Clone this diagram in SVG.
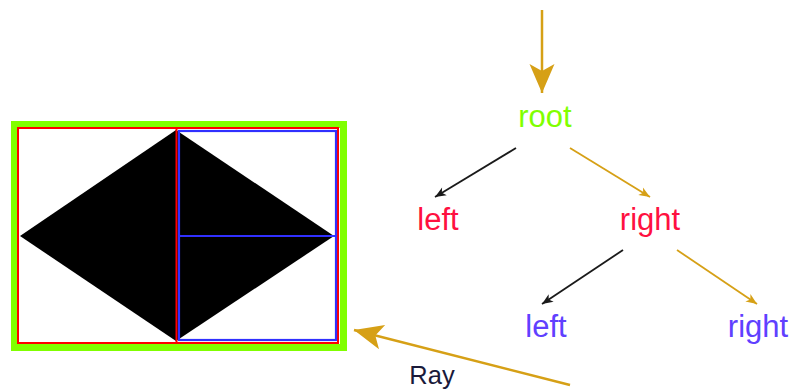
<svg xmlns="http://www.w3.org/2000/svg" width="793" height="392" viewBox="0 0 793 392">
<style>
.lbl{font-family:"Liberation Sans",Arial,sans-serif;font-size:31px;text-anchor:middle}
.gold{stroke:#D6A016;fill:none}
.blk{stroke:#1a1a1a;fill:none}
</style>
<defs>
<marker id="bigGold" markerUnits="userSpaceOnUse" viewBox="-31 -15 33 30" markerWidth="33" markerHeight="30" refX="0" refY="0" orient="auto">
<path d="M0,0 L-29,-12.5 L-22,0 L-29,12.5 Z" fill="#D6A016"/>
</marker>
<marker id="smGold" markerUnits="userSpaceOnUse" viewBox="-13 -6 15 12" markerWidth="15" markerHeight="12" refX="0" refY="0" orient="auto">
<path d="M0,0 L-11,-4.5 L-8,0 L-11,4.5 Z" fill="#D6A016"/>
</marker>
<marker id="smBlk" markerUnits="userSpaceOnUse" viewBox="-13 -6 15 12" markerWidth="15" markerHeight="12" refX="0" refY="0" orient="auto">
<path d="M0,0 L-11,-4.5 L-8,0 L-11,4.5 Z" fill="#1a1a1a"/>
</marker>
</defs>
<rect width="793" height="392" fill="#ffffff"/>
<g id="scene">
<rect x="14.5" y="124.5" width="329" height="223" fill="#ffffff" stroke="#80FF00" stroke-width="7"/>
<polygon points="20,236 176,130 334,236 176,341" fill="#000000"/>
<rect x="18" y="128" width="320" height="215" fill="none" stroke="#FF0000" stroke-width="2"/>
<line x1="176.5" y1="128" x2="176.5" y2="343" stroke="#FF0000" stroke-width="2"/>
<rect x="179" y="131" width="157" height="209" fill="none" stroke="#3030FF" stroke-width="2.2"/>
<line x1="179" y1="236" x2="336" y2="236" stroke="#3030FF" stroke-width="2.2"/>
</g>
<g id="connectors">
<line class="gold" x1="542" y1="10" x2="542" y2="93" stroke-width="2.5" marker-end="url(#bigGold)"/>
<line class="blk" x1="516" y1="148" x2="435" y2="197" stroke-width="1.8" marker-end="url(#smBlk)"/>
<line class="gold" x1="570" y1="148" x2="650" y2="197" stroke-width="1.8" marker-end="url(#smGold)"/>
<line class="blk" x1="623" y1="250" x2="542" y2="304" stroke-width="1.8" marker-end="url(#smBlk)"/>
<line class="gold" x1="677" y1="250" x2="757" y2="304" stroke-width="1.8" marker-end="url(#smGold)"/>
<line class="gold" x1="570" y1="385" x2="354" y2="330" stroke-width="2.5" marker-end="url(#bigGold)"/>
</g>
<g id="node-root"><text class="lbl" x="545" y="127" fill="#80FF00">root</text></g>
<g id="node-left1"><text class="lbl" x="438" y="230" fill="#FF1040">left</text></g>
<g id="node-right1"><text class="lbl" x="650" y="230" fill="#FF1040">right</text></g>
<g id="node-left2"><text class="lbl" x="546" y="337" fill="#6040FF">left</text></g>
<g id="node-right2"><text class="lbl" x="758" y="337" fill="#6040FF">right</text></g>
<g id="label-ray"><text x="432" y="384" font-family="Liberation Sans, Arial, sans-serif" font-size="25.5" text-anchor="middle" fill="#1a1a3a">Ray</text></g>
</svg>
